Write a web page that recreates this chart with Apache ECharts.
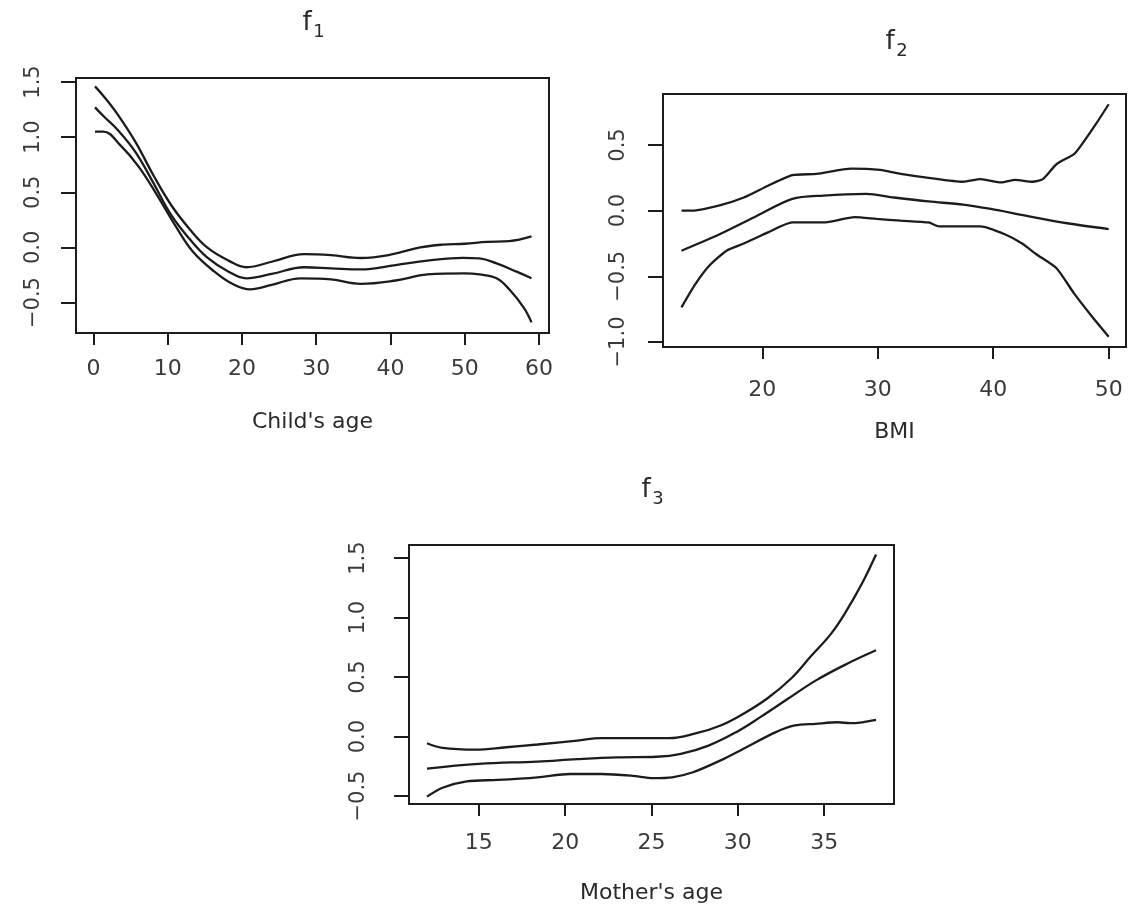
<!DOCTYPE html>
<html>
<head>
<meta charset="utf-8">
<script src="https://cdn.jsdelivr.net/npm/echarts@6/dist/echarts.min.js"></script>
<style>
  html, body { margin: 0; background: #fff; }
  #main { width: 1128px; height: 905px; }
</style>
</head>
<body>
<div id="main"></div>
<script>
// f1 - child's age: upper band, estimate, lower band
var childUpperX = [0.2, 1.5, 3.2, 5.7, 8.1, 10.5, 12.9, 15.3, 18.2, 20.6, 24, 28.4, 32, 36, 40, 44, 47, 50, 53, 56, 59];
var childUpperY = [1.46, 1.36, 1.21, 0.95, 0.65, 0.38, 0.17, 0.0, -0.12, -0.18, -0.13, -0.06, -0.07, -0.096, -0.066, 0.0, 0.025, 0.033, 0.05, 0.057, 0.1];
var childMeanX = [0.2, 1.5, 3.2, 5.7, 8.1, 10.5, 12.9, 15.3, 18.2, 20.6, 24, 28.4, 32, 36, 40.7, 45, 49.8, 52, 54.3, 57, 59];
var childMeanY = [1.27, 1.18, 1.07, 0.86, 0.58, 0.29, 0.08, -0.09, -0.22, -0.28, -0.24, -0.18, -0.19, -0.2, -0.16, -0.12, -0.094, -0.1, -0.145, -0.22, -0.28];
var childLowerX = [0.2, 1.3, 3.7, 6.1, 8.6, 11, 13.4, 16.3, 18.7, 21.1, 24, 27.9, 32, 36, 40.7, 45, 50, 52, 54.3, 56, 58, 59];
var childLowerY = [1.05, 1.05, 0.92, 0.73, 0.47, 0.2, -0.04, -0.22, -0.33, -0.38, -0.34, -0.28, -0.29, -0.33, -0.3, -0.245, -0.235, -0.245, -0.28, -0.38, -0.55, -0.68];

// f2 - BMI
var bmiUpperX = [13, 13.9, 16.3, 18.4, 20.5, 22.6, 24.7, 27.7, 30.2, 32, 34.4, 37.4, 38.9, 40.7, 41.9, 43.4, 44.3, 45.5, 47, 47.6, 48.9, 50];
var bmiUpperY = [0.0, 0.0, 0.04, 0.10, 0.19, 0.27, 0.28, 0.32, 0.31, 0.28, 0.25, 0.22, 0.24, 0.215, 0.235, 0.22, 0.24, 0.355, 0.43, 0.495, 0.66, 0.81];
var bmiMeanX = [13, 16.3, 19.3, 22.6, 25.3, 29, 31.4, 34.4, 37.4, 39.8, 42.8, 46.4, 50];
var bmiMeanY = [-0.305, -0.18, -0.05, 0.09, 0.115, 0.127, 0.10, 0.07, 0.046, 0.013, -0.038, -0.096, -0.14];
var bmiLowerX = [13, 14.2, 15.4, 16.9, 18.4, 20.5, 22.6, 25.3, 28, 29.9, 32, 34.4, 35.3, 38.9, 41, 42.5, 43.7, 45.5, 47, 48.5, 50];
var bmiLowerY = [-0.736, -0.56, -0.42, -0.305, -0.25, -0.165, -0.09, -0.09, -0.05, -0.063, -0.076, -0.09, -0.12, -0.12, -0.18, -0.25, -0.33, -0.44, -0.63, -0.80, -0.96];

// f3 - mother's age
var momUpperX = [12, 12.9, 14.8, 16.6, 18.4, 20.7, 22.1, 24.2, 26, 27.6, 29, 30.3, 31.7, 33.1, 34.2, 35.4, 36.3, 37.2, 38];
var momUpperY = [-0.056, -0.095, -0.11, -0.09, -0.067, -0.034, -0.014, -0.014, -0.014, 0.028, 0.093, 0.19, 0.32, 0.49, 0.67, 0.865, 1.06, 1.29, 1.53];
var momMeanX = [12, 15, 18.4, 20.7, 23, 25.3, 26.7, 28.3, 29.9, 31.3, 32.9, 34.5, 36.3, 38];
var momMeanY = [-0.27, -0.23, -0.21, -0.19, -0.175, -0.17, -0.146, -0.076, 0.037, 0.163, 0.317, 0.47, 0.61, 0.725];
var momLowerX = [12, 12.9, 14.3, 16.1, 18.4, 20.3, 22.1, 23.9, 25.1, 26.2, 27.4, 29, 30.3, 32.2, 33.3, 34.5, 35.8, 36.5, 37.2, 38];
var momLowerY = [-0.505, -0.43, -0.376, -0.365, -0.343, -0.315, -0.315, -0.33, -0.35, -0.343, -0.30, -0.2, -0.104, 0.037, 0.093, 0.107, 0.12, 0.112, 0.12, 0.14];

// tick labels
var childTicksX = [0, 10, 20, 30, 40, 50, 60];
var childTicksY = [-0.5, 0, 0.5, 1, 1.5];
var bmiTicksX = [20, 30, 40, 50];
var bmiTicksY = [-1, -0.5, 0, 0.5];
var momTicksX = [15, 20, 25, 30, 35];
var momTicksY = [-0.5, 0, 0.5, 1, 1.5];

var titles = ["1", "2", "3"];
var axisNames = ["Child's age", "BMI", "Mother's age"];

var font = "DejaVu Sans";
var ink = "#1c1c1c";

let pairs = (xs, ys) => xs.map((x, i) => [x, ys[i]]);

let makeX = (idx, min, max, ticks, margin, name, nameGap) => ({
  type: "value",
  gridIndex: idx,
  min: min,
  max: max,
  name: name,
  nameLocation: "middle",
  nameGap: nameGap,
  nameTextStyle: { fontFamily: font, fontSize: 22, color: "#2a2a2a", verticalAlign: "middle" },
  axisLine: { show: false, onZero: false },
  axisTick: { show: true, inside: false, length: 12, customValues: ticks, lineStyle: { color: ink, width: 2 } },
  axisLabel: {
    customValues: ticks,
    margin: margin,
    fontFamily: font,
    fontSize: 22,
    color: "#3a3a3a",
    formatter: (v) => String(v),
  },
  splitLine: { show: false },
});

let makeY = (idx, min, max, ticks, margin) => ({
  type: "value",
  gridIndex: idx,
  min: min,
  max: max,
  axisLine: { show: false, onZero: false },
  axisTick: { show: true, inside: false, length: 15, customValues: ticks, lineStyle: { color: ink, width: 2 } },
  axisLabel: {
    customValues: ticks,
    rotate: 90,
    margin: margin,
    fontFamily: font,
    fontSize: 21,
    color: "#3a3a3a",
    formatter: (v) => v.toFixed(1).replace("-", "\u2212"),
  },
  splitLine: { show: false },
});

let line = (idx, xs, ys, smooth) => ({
  type: "line",
  xAxisIndex: idx,
  yAxisIndex: idx,
  data: pairs(xs, ys),
  smooth: smooth,
  symbol: "none",
  silent: true,
  lineStyle: { color: ink, width: 2.3 },
});

let gridStyle = { show: true, borderColor: ink, borderWidth: 2, backgroundColor: "transparent" };

// subscript titles, f + index
let titleAt = (cx, baseline, sub) => [
  {
    type: "text",
    x: cx - 5,
    y: baseline,
    style: { text: "f", fontFamily: font, fontSize: 26, fill: "#2a2a2a", textAlign: "center", textVerticalAlign: "bottom" },
  },
  {
    type: "text",
    x: cx + 7,
    y: baseline + 5,
    style: { text: sub, fontFamily: font, fontSize: 18, fill: "#2a2a2a", textAlign: "center", textVerticalAlign: "bottom" },
  },
];

let option = {
  backgroundColor: "#ffffff",
  animation: false,
  grid: [
    Object.assign({ left: 76, top: 78, width: 473, height: 255 }, gridStyle),
    Object.assign({ left: 663, top: 94, width: 463, height: 253 }, gridStyle),
    Object.assign({ left: 409, top: 545, width: 485, height: 259 }, gridStyle),
  ],
  xAxis: [
    makeX(0, -2.36, 61.36, childTicksX, 25, axisNames[0], 89),
    makeX(1, 11.4, 51.5, bmiTicksX, 32, axisNames[1], 85),
    makeX(2, 10.96, 39.04, momTicksX, 28, axisNames[2], 89),
  ],
  yAxis: [
    makeY(0, -0.776, 1.536, childTicksY, 32),
    makeY(1, -1.038, 0.888, bmiTicksY, 34),
    makeY(2, -0.567, 1.61, momTicksY, 40),
  ],
  graphic: [].concat(
    titleAt(312, 36, titles[0]),
    titleAt(895, 55, titles[1]),
    titleAt(651, 503, titles[2])
  ),
  series: [
    line(0, childUpperX, childUpperY, 0.4),
    line(0, childMeanX, childMeanY, 0.4),
    line(0, childLowerX, childLowerY, 0.4),
    line(1, bmiUpperX, bmiUpperY, 0.2),
    line(1, bmiMeanX, bmiMeanY, 0.3),
    line(1, bmiLowerX, bmiLowerY, 0.2),
    line(2, momUpperX, momUpperY, 0.4),
    line(2, momMeanX, momMeanY, 0.4),
    line(2, momLowerX, momLowerY, 0.3),
  ],
};

var myChart = echarts.init(document.getElementById("main"));
myChart.setOption(option);
</script>
</body>
</html>
